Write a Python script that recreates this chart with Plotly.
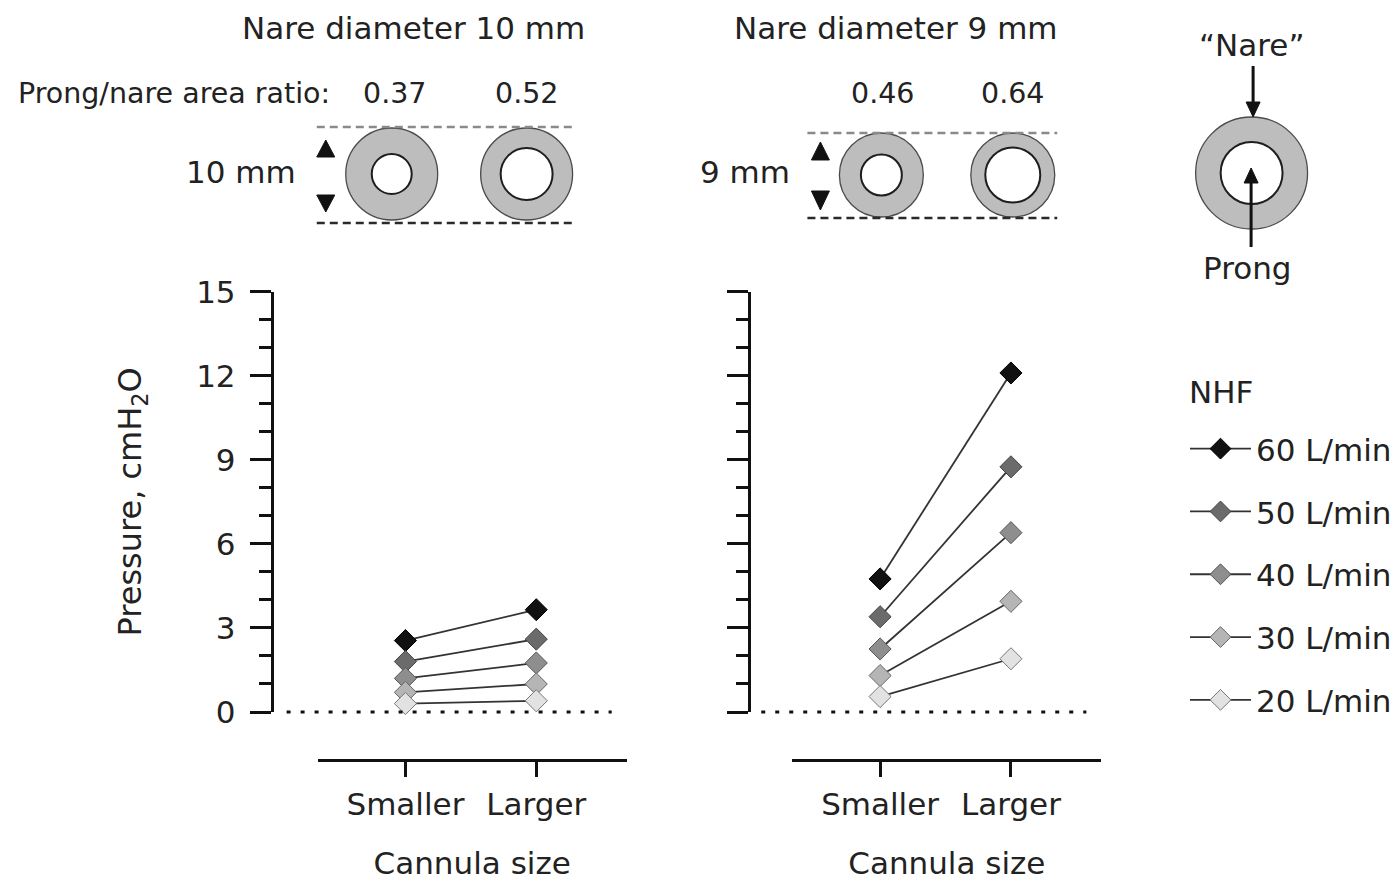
import plotly.graph_objects as go

# ---------------- data ----------------
flows = ["60 L/min", "50 L/min", "40 L/min", "30 L/min", "20 L/min"]
categories = ["Smaller", "Larger"]
left_smaller = [2.55, 1.8, 1.2, 0.7, 0.3]
left_larger = [3.65, 2.6, 1.75, 1.0, 0.4]
right_smaller = [4.75, 3.4, 2.25, 1.3, 0.55]
right_larger = [12.1, 8.75, 6.4, 3.95, 1.9]
ratio_left = ["0.37", "0.52"]
ratio_right = ["0.46", "0.64"]
y_ticks = [0, 3, 6, 9, 12, 15]
panel_titles = ["Nare diameter 10 mm", "Nare diameter 9 mm"]
size_labels = ["10 mm", "9 mm"]

# ---------------- styles ----------------
W, H = 1397, 881
FONT = "DejaVu Sans"
TXT = "#222222"
marker_colors = ["#111111", "#6b6b6b", "#8e8e8e", "#b5b5b5", "#e2e2e2"]
marker_edges = ["#000000", "#444444", "#555555", "#666666", "#777777"]
line_color = "#333333"


def px(x):
    return x / W


def py(y):
    return 1 - y / H


fig = go.Figure()

for i, name in enumerate(flows):
    for p, (sm, lg) in enumerate([(left_smaller, left_larger), (right_smaller, right_larger)]):
        fig.add_trace(go.Scatter(
            x=categories, y=[sm[i], lg[i]],
            xaxis="x" if p == 0 else "x2", yaxis="y" if p == 0 else "y2",
            mode="lines+markers", name=name, legendgroup=name,
            showlegend=(p == 0), cliponaxis=False,
            line=dict(color=line_color, width=1.8),
            marker=dict(symbol="diamond", size=17, color=marker_colors[i],
                        line=dict(color=marker_edges[i], width=1)),
        ))

x_range = [-0.67, 1.69]
common_x = dict(type="category", range=x_range, showline=True, linewidth=3,
                linecolor="#111111", ticks="outside", ticklen=15, tickwidth=3,
                tickcolor="#111111", showgrid=False, zeroline=False, automargin=False,
                tickfont=dict(family=FONT, size=31, color=TXT),
                ticklabelstandoff=1, anchor="free", position=py(760),
                title=dict(text="Cannula size", font=dict(family=FONT, size=31, color=TXT),
                           standoff=35))
common_y = dict(range=[0, 15], domain=[py(712), py(291.7)], showline=True, linewidth=3,
                linecolor="#111111", ticks="outside", ticklen=21, tickwidth=3,
                tickcolor="#111111", tickmode="array", tickvals=y_ticks,
                minor=dict(dtick=1, tick0=0, ticks="outside", ticklen=12, tickwidth=3,
                           tickcolor="#111111", showgrid=False),
                showgrid=False, zeroline=False, anchor="free", automargin=False,
                tickfont=dict(family=FONT, size=31, color=TXT))

fig.update_layout(
    width=W, height=H, autosize=False,
    margin=dict(l=0, r=0, t=0, b=0, pad=0),
    paper_bgcolor="white", plot_bgcolor="white",
    font=dict(family=FONT, color=TXT),
    xaxis=dict(common_x, domain=[px(318), px(627)]),
    xaxis2=dict(common_x, domain=[px(793), px(1102)]),
    yaxis=dict(common_y, position=px(272), ticklabelstandoff=8,
               title=dict(text="Pressure, cmH<sub>2</sub>O",
                          font=dict(family=FONT, size=32, color=TXT), standoff=43)),
    yaxis2=dict(common_y, position=px(750), showticklabels=False),
    legend=dict(x=px(1186), y=py(422), xanchor="left", yanchor="top",
                font=dict(family=FONT, size=31, color=TXT),
                tracegroupgap=19.5, bgcolor="rgba(0,0,0,0)", itemwidth=61),
    showlegend=True,
)

shapes = []
# dotted zero reference lines
for xr, yr in [("x domain", "y domain"), ("x2 domain", "y2 domain")]:
    shapes.append(dict(type="line", xref=xr, yref=yr, x0=-0.101, x1=0.952, y0=0, y1=0,
                       line=dict(color="#111111", width=3, dash="4px,10px")))


def ring(cx, cy, ro, ri, fill="#bdbdbd"):
    shapes.append(dict(type="circle", xref="paper", yref="paper",
                       x0=px(cx - ro), x1=px(cx + ro), y0=py(cy + ro), y1=py(cy - ro),
                       fillcolor=fill, line=dict(color="#4a4a4a", width=1.3)))
    shapes.append(dict(type="circle", xref="paper", yref="paper",
                       x0=px(cx - ri), x1=px(cx + ri), y0=py(cy + ri), y1=py(cy - ri),
                       fillcolor="white", line=dict(color="#1e1e1e", width=2)))


ring(392, 174, 46, 20)
ring(527, 174, 46, 26)
ring(882, 175, 42, 20.5)
ring(1013.5, 175, 42, 27.5)
ring(1252.5, 173, 56, 31)


def hline(x0, x1, y, color):
    shapes.append(dict(type="line", xref="paper", yref="paper", x0=px(x0), x1=px(x1),
                       y0=py(y), y1=py(y), line=dict(color=color, width=2.4, dash="8px,5px")))


hline(317, 574, 127, "#8a8a8a")
hline(317, 574, 223, "#2a2a2a")
hline(808, 1058, 133, "#8a8a8a")
hline(808, 1058, 218, "#2a2a2a")


def tri(cx, tip_y, base_y, half_w):
    path = "M {:.5f},{:.5f} L {:.5f},{:.5f} L {:.5f},{:.5f} Z".format(
        px(cx), py(tip_y), px(cx - half_w), py(base_y), px(cx + half_w), py(base_y))
    shapes.append(dict(type="path", xref="paper", yref="paper", path=path,
                       fillcolor="#111111", line=dict(color="#111111", width=1)))


def vline(x, y0, y1):
    shapes.append(dict(type="line", xref="paper", yref="paper", x0=px(x), x1=px(x),
                       y0=py(y0), y1=py(y1), line=dict(color="#111111", width=3)))


# size indicator triangles
tri(326, 140, 157, 9)
tri(326, 212, 195, 9)
tri(821, 142, 160, 9)
tri(821, 210, 191, 9)
# key diagram arrows
vline(1254, 66, 104)
tri(1254, 117, 102, 7)
vline(1252, 247, 182)
tri(1252, 168, 183, 7)
fig.update_layout(shapes=shapes)

ann = []


def text(x, y, t, size=31, xanchor="center"):
    ann.append(dict(x=px(x), y=py(y), xref="paper", yref="paper", text=t, showarrow=False,
                    xanchor=xanchor, yanchor="middle",
                    font=dict(family=FONT, size=size, color=TXT)))


text(414, 28, panel_titles[0])
text(897, 28, panel_titles[1])
text(16, 93, "Prong/nare area ratio:", size=28.5, xanchor="left")
text(395, 93, ratio_left[0], size=28.5)
text(527, 93, ratio_left[1], size=28.5)
text(883, 93, ratio_right[0], size=28.5)
text(1013, 93, ratio_right[1], size=28.5)
text(298, 172, size_labels[0], xanchor="right")
text(793, 172, size_labels[1], xanchor="right")
text(1252, 45, "\u201cNare\u201d")
text(1248, 268, "Prong")
text(1188, 392, "NHF", xanchor="left")
fig.update_layout(annotations=ann)

fig.write_html("out.html")
